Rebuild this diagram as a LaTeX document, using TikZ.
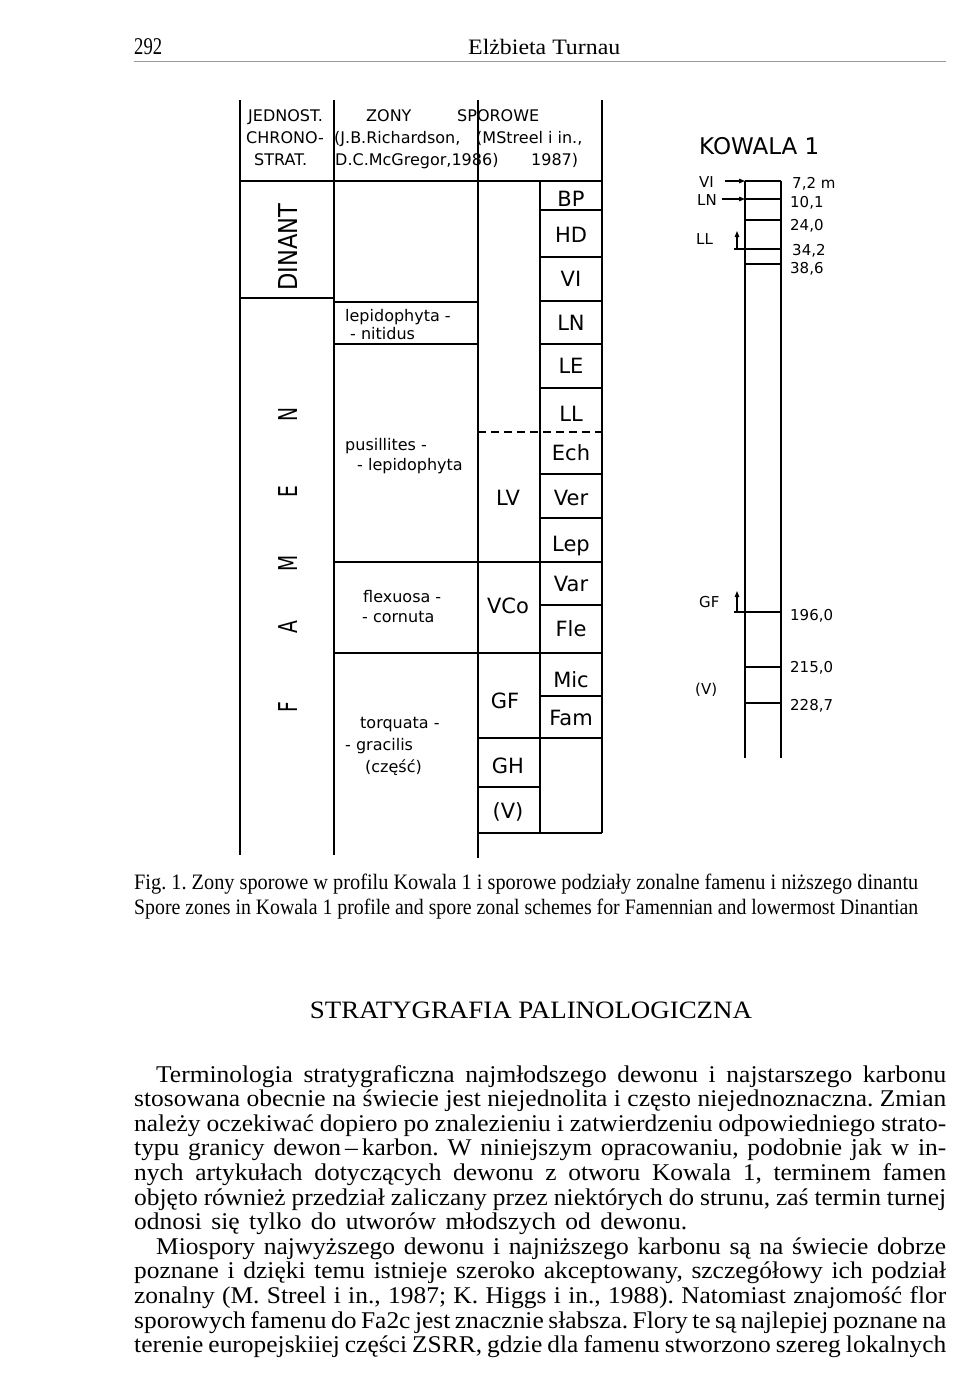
\documentclass[tikz,border=0pt]{standalone}
\usepackage{fontspec}
\usepackage{graphicx}
\setmainfont{Liberation Serif}
\newfontfamily\dvs{DejaVu Sans}
\newfontfamily\bodyfont[FakeStretch=1.06]{Liberation Serif}
\usetikzlibrary{arrows.meta}
\frenchspacing
\tikzset{
  rule/.style={line width=1.6pt},
  hd/.style={font=\dvs\fontsize{16}{18}\selectfont, anchor=base west, inner sep=0pt},
  zn/.style={font=\dvs\fontsize{16}{18}\selectfont, anchor=base west, inner sep=0pt},
  code/.style={font=\dvs\fontsize{21}{24}\selectfont, anchor=base, inner sep=0pt},
  lett/.style={font=\dvs\fontsize{26}{28}\selectfont, rotate=90, inner sep=0pt},
  kw/.style={font=\dvs\fontsize{15}{18}\selectfont, anchor=base west, inner sep=0pt},
  dep/.style={font=\dvs\fontsize{15}{17}\selectfont, anchor=base west, inner sep=0pt},
  body/.style={font=\bodyfont\fontsize{24}{24}\selectfont, anchor=base west, inner sep=0pt},
  plain/.style={anchor=base west, inner sep=0pt},
  arr/.style={line width=1.2pt, -{Triangle[length=6pt,width=4.5pt]}},
}
\begin{document}
\begin{tikzpicture}[x=1pt,y=-1pt]
\fill[white] (0,0) rectangle (960,1384);
\useasboundingbox (0,0) rectangle (960,1384);

% page header
\node[plain] (pnum) at (134,54) {\resizebox{28pt}{\height}{\fontsize{24}{24}\selectfont 292}};
\node[plain] (pauth) at (468,54) {\resizebox{152pt}{\height}{\fontsize{22}{24}\selectfont Elżbieta Turnau}};
\draw[line width=0.9pt, black!40] (134,61) -- (946,61);

% ---------- chart grid ----------
\draw[rule] (240,100) -- (240,855);
\draw[rule] (334,100) -- (334,855);
\draw[rule] (478,100) -- (478,858);
\draw[rule] (540,181) -- (540,833);
\draw[rule] (602,100) -- (602,833);
\draw[rule] (240,181) -- (602,181);
\draw[rule] (240,298) -- (334,298);
\draw[rule] (334,302) -- (478,302);
\draw[rule] (334,344) -- (478,344);
\foreach \yy in {210,257,301,344,388,474,518,605,696}
  \draw[rule] (540,\yy) -- (602,\yy);
\draw[rule, dash pattern=on 8pt off 5pt] (478,432) -- (602,432);
\draw[rule] (334,562) -- (602,562);
\draw[rule] (334,653) -- (602,653);
\draw[rule] (478,738) -- (602,738);
\draw[rule] (478,787) -- (540,787);
\draw[rule] (478,833) -- (602,833);

% header texts
\node[hd] (h1) at (248,121) {JEDNOST.};
\node[hd] (h2) at (246,143) {CHRONO-};
\node[hd] (h3) at (254,165) {STRAT.};
\node[hd] (h4) at (366,121) {ZONY};
\node[hd] (h5) at (457,121) {SPOROWE};
\node[hd] (h6) at (334,143) {(J.B.Richardson,};
\node[hd] (h7) at (476,143) {(MStreel i in.,};
\node[hd] (h8) at (335,165) {D.C.McGregor,1986)};
\node[hd] (h9) at (531,165) {1987)};

% chronostratigraphy
\node[lett] (dinant) at (288,247) {\resizebox{87pt}{\height}{DINANT}};
\node[lett] (fN) at (288,414) {\scalebox{0.72}[1]{N}};
\node[lett] (fE) at (288,492) {\scalebox{0.72}[1]{E}};
\node[lett] (fM) at (288,563) {\scalebox{0.72}[1]{M}};
\node[lett] (fA) at (288,627) {\scalebox{0.72}[1]{A}};
\node[lett] (fF) at (288,707) {\scalebox{0.72}[1]{F}};

% Richardson & McGregor zones
\node[zn] (z1a) at (345,321) {lepidophyta -};
\node[zn] (z1b) at (350,339) {- nitidus};
\node[zn] (z2a) at (345,450) {pusillites -};
\node[zn] (z2b) at (357,470) {- lepidophyta};
\node[zn] (z3a) at (363,602) {flexuosa -};
\node[zn] (z3b) at (362,622) {- cornuta};
\node[zn] (z4a) at (360,728) {torquata -};
\node[zn] (z4b) at (345,750) {- gracilis};
\node[zn] (z4c) at (365,772) {(część)};

% Streel zones
\node[code] (LV) at (508,505) {LV};
\node[code] (VCo) at (508,613) {VCo};
\node[code] (GF) at (505,708) {GF};
\node[code] (GH) at (508,773) {GH};
\node[code] (Vz) at (508,818) {(V)};

\node[code] (BP) at (571,206) {BP};
\node[code] (HD) at (571,242) {HD};
\node[code] (VI) at (571,286) {VI};
\node[code] (LN) at (571,330) {LN};
\node[code] (LE) at (571,373) {LE};
\node[code] (LL) at (571,421) {LL};
\node[code] (Ech) at (571,460) {Ech};
\node[code] (Ver) at (571,505) {Ver};
\node[code] (Lep) at (571,551) {Lep};
\node[code] (Var) at (571,591) {Var};
\node[code] (Fle) at (571,636) {Fle};
\node[code] (Mic) at (571,687) {Mic};
\node[code] (Fam) at (571,725) {Fam};

% ---------- KOWALA 1 ----------
\node[font=\dvs\fontsize{23}{26}\selectfont, anchor=base west, inner sep=0pt] (kow) at (699,154) {KOWALA 1};
\draw[rule] (745,181) -- (745,758);
\draw[rule] (781,181) -- (781,758);
\draw[rule] (745,181) -- (781,181);
\draw[rule] (745,199) -- (781,199);
\draw[rule] (745,220) -- (781,220);
\draw[rule] (734,249) -- (781,249);
\draw[rule] (745,264) -- (781,264);
\draw[rule] (734,612) -- (781,612);
\draw[rule] (745,667) -- (781,667);
\draw[rule] (745,703) -- (781,703);

\node[dep] (d1) at (792,188) {7,2 m};
\node[dep] (d2) at (790,207) {10,1};
\node[dep] (d3) at (790,230) {24,0};
\node[dep] (d4) at (792,255) {34,2};
\node[dep] (d5) at (790,273) {38,6};
\node[dep] (d6) at (790,620) {196,0};
\node[dep] (d7) at (790,672) {215,0};
\node[dep] (d8) at (790,710) {228,7};

\node[kw] (kVI) at (699,187) {VI};
\node[kw] (kLN) at (697,205) {LN};
\node[kw] (kLL) at (696,244) {LL};
\node[kw] (kGF) at (699,607) {GF};
\node[kw] (kV) at (695,694) {(V)};

\coordinate (aVIs) at (725,181);
\coordinate (aVIe) at (745,181);
\coordinate (aLNs) at (722,199);
\coordinate (aLNe) at (745,199);
\coordinate (aLLs) at (737,249);
\coordinate (aLLe) at (737,231);
\coordinate (aGFs) at (737,612);
\coordinate (aGFe) at (737,591);
\draw[arr] (aVIs) -- (aVIe);
\draw[arr] (aLNs) -- (aLNe);
\draw[arr] (aLLs) -- (aLLe);
\draw[arr] (aGFs) -- (aGFe);

% ---------- caption ----------
\node[plain] (cap1) at (134,889) {\resizebox{784pt}{\height}{\fontsize{22}{24}\selectfont Fig. 1. Zony sporowe w profilu Kowala 1 i sporowe podziały zonalne famenu i niższego dinantu}};
\node[plain] (cap2) at (134,914) {\resizebox{784pt}{\height}{\fontsize{22}{24}\selectfont Spore zones in Kowala 1 profile and spore zonal schemes for Famennian and lowermost Dinantian}};

% ---------- heading ----------
\node[anchor=base, inner sep=0pt] (head) at (531,1018) {\resizebox{442pt}{\height}{\fontsize{25}{26}\selectfont STRATYGRAFIA PALINOLOGICZNA}};

% ---------- body ----------
\node[body] (t1) at (156,1082) {\makebox[790pt][s]{Terminologia stratygraficzna najmłodszego dewonu i najstarszego karbonu}};
\node[body] (t2) at (134,1106.6) {\makebox[812pt][s]{stosowana obecnie na świecie jest niejednolita i często niejednoznaczna. Zmian}};
\node[body] (t3) at (134,1131.2) {\makebox[812pt][s]{należy oczekiwać dopiero po znalezieniu i zatwierdzeniu odpowiedniego strato-}};
\node[body] (t4) at (134,1155.8) {\makebox[812pt][s]{typu granicy dewon\,–\,karbon. W niniejszym opracowaniu, podobnie jak w in-}};
\node[body] (t5) at (134,1180.4) {\makebox[812pt][s]{nych artykułach dotyczących dewonu z otworu Kowala 1, terminem famen}};
\node[body] (t6) at (134,1205.0) {\makebox[812pt][s]{objęto również przedział zaliczany przez niektórych do strunu, zaś termin turnej}};
\node[body] (t7) at (134,1229.6) {\makebox[553pt][s]{odnosi się tylko do utworów młodszych od dewonu.}};
\node[body] (t8) at (156,1254.2) {\makebox[790pt][s]{Miospory najwyższego dewonu i najniższego karbonu są na świecie dobrze}};
\node[body] (t9) at (134,1278.8) {\makebox[812pt][s]{poznane i dzięki temu istnieje szeroko akceptowany, szczegółowy ich podział}};
\node[body] (t10) at (134,1303.4) {\makebox[812pt][s]{zonalny (M. Streel i in., 1987; K. Higgs i in., 1988). Natomiast znajomość flor}};
\node[body] (t11) at (134,1328.0) {\makebox[812pt][s]{sporowych famenu do Fa2c jest znacznie słabsza. Flory te są najlepiej poznane na}};
\node[body] (t12) at (134,1352.6) {\makebox[812pt][s]{terenie europejskiiej części ZSRR, gdzie dla famenu stworzono szereg lokalnych}};
\end{tikzpicture}
\end{document}
